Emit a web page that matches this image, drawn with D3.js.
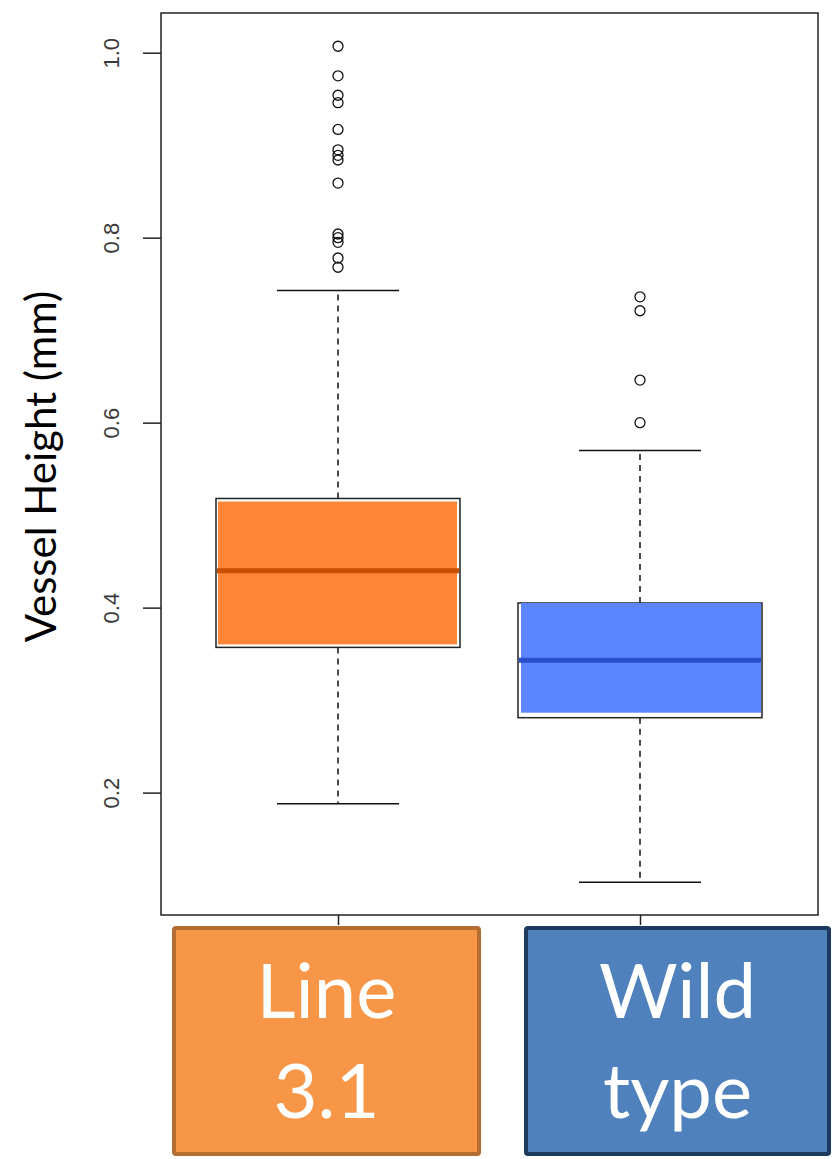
<!DOCTYPE html>
<html>
<head>
<meta charset="utf-8">
<script src="https://cdn.jsdelivr.net/npm/d3@7"></script>
<style>
  body { margin: 0; background: #fff; }
  svg { display: block; }
</style>
</head>
<body>
<svg id="chart"></svg>
<script>
// groups and box statistics (mm)
const groups = ['Line 3.1', 'Wild type'];
const labelLines = [['Line', '3.1'], ['Wild', 'type']];
const lowWhisker = [0.188, 0.103];
const q1 = [0.357, 0.281];
const median = [0.440, 0.343];
const q3 = [0.518, 0.405];
const highWhisker = [0.743, 0.570];
const outliers = [
  [1.007, 0.975, 0.954, 0.946, 0.917, 0.895, 0.889, 0.884, 0.859, 0.804, 0.800, 0.795, 0.778, 0.768],
  [0.736, 0.721, 0.646, 0.600]
];
const yTicks = [0.2, 0.4, 0.6, 0.8, 1.0];

const boxFill = ['#ff8537', '#5b86ff'];
const medianColor = ['#c85000', '#2a4fcc'];
const labelFill = ['#f79646', '#4f81bd'];
const labelStroke = ['#b66d31', '#1f3a60'];

const W = 836, H = 1159;
const plot = { left: 161, right: 818, top: 13, bottom: 915 };

const svg = d3.select('#chart').attr('width', W).attr('height', H);

const y = d3.scaleLinear().domain([0.2, 1.0]).range([792.6, 52.7]);
const x = d3.scalePoint().domain(groups).range([338, 640]);
const boxW = 244;

// plot frame
svg.append('rect')
  .attr('x', plot.left).attr('y', plot.top)
  .attr('width', plot.right - plot.left).attr('height', plot.bottom - plot.top)
  .attr('fill', 'none').attr('stroke', '#222').attr('stroke-width', 1.5);

// y axis
const yAxis = svg.append('g')
  .attr('transform', `translate(${plot.left},0)`)
  .call(d3.axisLeft(y).tickValues(yTicks).tickFormat(d3.format('.1f')).tickSize(18).tickPadding(0));
yAxis.select('.domain').remove();
yAxis.selectAll('.tick line').attr('stroke', '#222').attr('stroke-width', 1.5);
yAxis.selectAll('.tick text')
  .attr('x', 0).attr('dy', 0)
  .attr('transform', 'translate(-50,0) rotate(-90)')
  .attr('text-anchor', 'middle')
  .attr('dominant-baseline', 'central')
  .attr('font-family', 'Liberation Sans, Arial, sans-serif')
  .attr('font-size', 22)
  .attr('fill', '#3a3a3a');

// x axis ticks
svg.append('g')
  .attr('transform', `translate(0,${plot.bottom})`)
  .call(d3.axisBottom(x).tickSize(10).tickFormat(''))
  .call(g => g.select('.domain').remove())
  .call(g => g.selectAll('.tick line').attr('stroke', '#222').attr('stroke-width', 1.5));

// y label
svg.append('text')
  .attr('transform', `translate(56,${(283 + 650) / 2}) rotate(-90)`)
  .attr('text-anchor', 'middle')
  .attr('font-family', 'Lato, sans-serif')
  .attr('font-size', 42)
  .attr('fill', '#000')
  .text('Vessel Height (mm)');

const idx = d3.range(groups.length);
const g = svg.append('g');

// whiskers
idx.forEach(i => {
  const cx = x(groups[i]);
  g.append('line')
    .attr('x1', cx).attr('x2', cx)
    .attr('y1', y(q3[i])).attr('y2', y(highWhisker[i]))
    .attr('stroke', '#111').attr('stroke-width', 1.5).attr('stroke-dasharray', '6,5');
  g.append('line')
    .attr('x1', cx).attr('x2', cx)
    .attr('y1', y(q1[i])).attr('y2', y(lowWhisker[i]))
    .attr('stroke', '#111').attr('stroke-width', 1.5).attr('stroke-dasharray', '6,5');
  [lowWhisker[i], highWhisker[i]].forEach(v => {
    g.append('line')
      .attr('x1', cx - boxW / 4).attr('x2', cx + boxW / 4)
      .attr('y1', y(v)).attr('y2', y(v))
      .attr('stroke', '#111').attr('stroke-width', 1.5);
  });
});

// boxes
idx.forEach(i => {
  const cx = x(groups[i]);
  g.append('rect')
    .attr('x', cx - boxW / 2).attr('y', y(q3[i]))
    .attr('width', boxW).attr('height', y(q1[i]) - y(q3[i]))
    .attr('fill', '#fff').attr('stroke', '#222').attr('stroke-width', 1.5);
  // coloured overlay, slightly inset
  const inset = i === 0 ? { l: 2, t: 3, r: 3, b: 3 } : { l: 3, t: 0, r: 1, b: 5 };
  g.append('rect')
    .attr('x', cx - boxW / 2 + inset.l).attr('y', y(q3[i]) + inset.t)
    .attr('width', boxW - inset.l - inset.r)
    .attr('height', y(q1[i]) - y(q3[i]) - inset.t - inset.b)
    .attr('fill', boxFill[i]);
  g.append('line')
    .attr('x1', cx - boxW / 2 + 1).attr('x2', cx + boxW / 2 - 1)
    .attr('y1', y(median[i])).attr('y2', y(median[i]))
    .attr('stroke', medianColor[i]).attr('stroke-width', 5);
});

// outliers
idx.forEach(i => {
  g.selectAll(null)
    .data(outliers[i])
    .join('circle')
    .attr('cx', x(groups[i]))
    .attr('cy', d => y(d))
    .attr('r', 5)
    .attr('fill', 'none')
    .attr('stroke', '#111')
    .attr('stroke-width', 1.3);
});

// category label boxes
const labelBox = [{ x: 174, w: 305 }, { x: 526, w: 303 }];
idx.forEach(i => {
  const lg = svg.append('g');
  lg.append('rect')
    .attr('x', labelBox[i].x).attr('y', 928)
    .attr('width', labelBox[i].w).attr('height', 226)
    .attr('rx', 2)
    .attr('fill', labelFill[i])
    .attr('stroke', labelStroke[i]).attr('stroke-width', 4);
  lg.append('text')
    .attr('x', labelBox[i].x + labelBox[i].w / 2)
    .attr('text-anchor', 'middle')
    .attr('font-family', 'Lato, sans-serif')
    .attr('font-size', 76)
    .attr('fill', '#fff')
    .selectAll('tspan')
    .data(labelLines[i])
    .join('tspan')
    .attr('x', labelBox[i].x + labelBox[i].w / 2)
    .attr('y', (d, j) => 1018 + j * 100)
    .text(d => d);
});
</script>
</body>
</html>
